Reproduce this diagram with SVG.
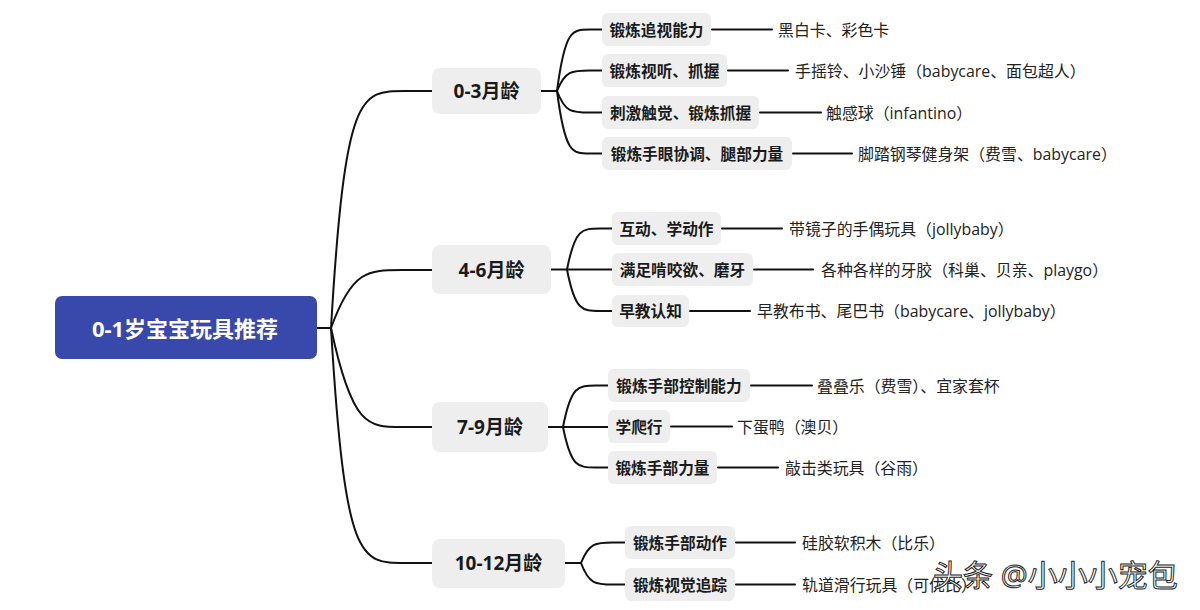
<svg xmlns="http://www.w3.org/2000/svg" width="1200" height="610" viewBox="0 0 1200 610">
<style>
text{font-family:"Open Sans","Noto Sans CJK SC",sans-serif;dominant-baseline:central}
.root rect{fill:#3949AB}
.root text{fill:#fff;font-size:22px;font-weight:700;text-anchor:middle}
.l1 rect{fill:#EEEEEE}
.l1 text{fill:#1a1a1a;font-size:19px;font-weight:700;text-anchor:middle}
.l2 rect{fill:#EEEEEE}
.l2 text{fill:#1a1a1a;font-size:15.7px;font-weight:600;text-anchor:middle}
.leaf{fill:#222;font-size:15.9px;font-weight:400}
.conn path{fill:none;stroke:#111;stroke-width:2;stroke-linecap:round}
.wm{font-size:30px;fill:#fff;stroke:#222;stroke-width:1;font-weight:400}
</style>
<rect width="1200" height="610" fill="#fff"/>
<g class="conn">
<path d="M317 328 H331"/>
<path d="M331 328 C345 91 360 91 405 91 H432"/>
<path d="M331 328 C352 270 368 270 402 270 H432"/>
<path d="M331 328 C352 427 368 427 402 427 H432"/>
<path d="M331 328 C345 563 360 563 405 563 H432"/>
<path d="M541 91 H557"/>
<path d="M557 91 C565 29.5 572 29.5 590 29.5 H602"/>
<path d="M557 91 C565 70.5 572 70.5 590 70.5 H602"/>
<path d="M557 91 C565 112.5 572 112.5 590 112.5 H602"/>
<path d="M557 91 C565 153.5 572 153.5 590 153.5 H602"/>
<path d="M551 269.5 H567"/>
<path d="M567 269.5 C575 228.5 582 228.5 600 228.5 H612"/>
<path d="M567 269.5 H612"/>
<path d="M567 269.5 C575 311 582 311 600 311 H612"/>
<path d="M548 427 H563"/>
<path d="M563 427 C571 385.5 578 385.5 596 385.5 H608"/>
<path d="M563 427 H608"/>
<path d="M563 427 C571 467.5 578 467.5 596 467.5 H608"/>
<path d="M565 563 H581"/>
<path d="M581 563 C589 542.5 596 542.5 613 542.5 H625"/>
<path d="M581 563 C589 584.5 596 584.5 613 584.5 H625"/>
<path d="M712 29.5 H772"/>
<path d="M728 70.5 H788"/>
<path d="M760 112.5 H821"/>
<path d="M793 153.5 H852"/>
<path d="M722 228.5 H782"/>
<path d="M754 269.5 H813"/>
<path d="M690 311 H750"/>
<path d="M751 385.5 H812"/>
<path d="M671 426.5 H732"/>
<path d="M718 467.5 H778"/>
<path d="M736 542.5 H795"/>
<path d="M736 584.5 H795"/>
</g>
<g id="root" class="root"><rect x="55" y="296" width="262" height="63" rx="7"/><text x="185" y="328">0-1岁宝宝玩具推荐</text></g>
<g id="n03" class="l1"><rect x="432" y="68" width="109" height="46" rx="8"/><text x="486.5" y="91">0-3月龄</text></g>
<g id="n46" class="l1"><rect x="432" y="245" width="119" height="49" rx="8"/><text x="491.5" y="269.5">4-6月龄</text></g>
<g id="n79" class="l1"><rect x="432" y="402" width="116" height="50" rx="8"/><text x="490" y="427">7-9月龄</text></g>
<g id="n1012" class="l1"><rect x="432" y="539" width="133" height="49" rx="8"/><text x="498.5" y="563">10-12月龄</text></g>
<g id="a1" class="l2"><rect x="602" y="13" width="109" height="33" rx="6"/><text x="656.5" y="29.5">锻炼追视能力</text></g>
<g id="a2" class="l2"><rect x="602" y="54" width="125" height="33" rx="6"/><text x="664.5" y="70.5">锻炼视听、抓握</text></g>
<g id="a3" class="l2"><rect x="602" y="96" width="157" height="33" rx="6"/><text x="680.5" y="112.5">刺激触觉、锻炼抓握</text></g>
<g id="a4" class="l2"><rect x="602" y="137" width="190" height="33" rx="6"/><text x="697" y="153.5">锻炼手眼协调、腿部力量</text></g>
<g id="b1" class="l2"><rect x="612" y="212" width="109" height="33" rx="6"/><text x="666.5" y="228.5">互动、学动作</text></g>
<g id="b2" class="l2"><rect x="612" y="253" width="141" height="33" rx="6"/><text x="682.5" y="269.5">满足啃咬欲、磨牙</text></g>
<g id="b3" class="l2"><rect x="612" y="295" width="77" height="32" rx="6"/><text x="650.5" y="311">早教认知</text></g>
<g id="c1" class="l2"><rect x="608" y="369" width="142" height="33" rx="6"/><text x="679" y="385.5">锻炼手部控制能力</text></g>
<g id="c2" class="l2"><rect x="608" y="410" width="62" height="33" rx="6"/><text x="639" y="426.5">学爬行</text></g>
<g id="c3" class="l2"><rect x="608" y="451" width="109" height="33" rx="6"/><text x="662.5" y="467.5">锻炼手部力量</text></g>
<g id="d1" class="l2"><rect x="625" y="526" width="110" height="33" rx="6"/><text x="680" y="542.5">锻炼手部动作</text></g>
<g id="d2" class="l2"><rect x="625" y="568" width="110" height="33" rx="6"/><text x="680" y="584.5">锻炼视觉追踪</text></g>
<g id="leaves">
<text class="leaf" x="778" y="29.5">黑白卡、彩色卡</text>
<text class="leaf" x="795" y="70.5">手摇铃、小沙锤（babycare、面包超人）</text>
<text class="leaf" x="826" y="112.5">触感球（infantino）</text>
<text class="leaf" x="858" y="153.5">脚踏钢琴健身架（费雪、babycare）</text>
<text class="leaf" x="789" y="228.5">带镜子的手偶玩具（jollybaby）</text>
<text class="leaf" x="821" y="269.5">各种各样的牙胶（科巢、贝亲、playgo）</text>
<text class="leaf" x="757" y="311">早教布书、尾巴书（babycare、jollybaby）</text>
<text class="leaf" x="817" y="385.5">叠叠乐（费雪）、宜家套杯</text>
<text class="leaf" x="737" y="426.5">下蛋鸭（澳贝）</text>
<text class="leaf" x="785" y="467.5">敲击类玩具（谷雨）</text>
<text class="leaf" x="802" y="542.5">硅胶软积木（比乐）</text>
<text class="leaf" x="802" y="584.5">轨道滑行玩具（可优比）</text>
</g>
<text class="wm" x="933" y="574">头条 @小小小宠包</text>
</svg>
